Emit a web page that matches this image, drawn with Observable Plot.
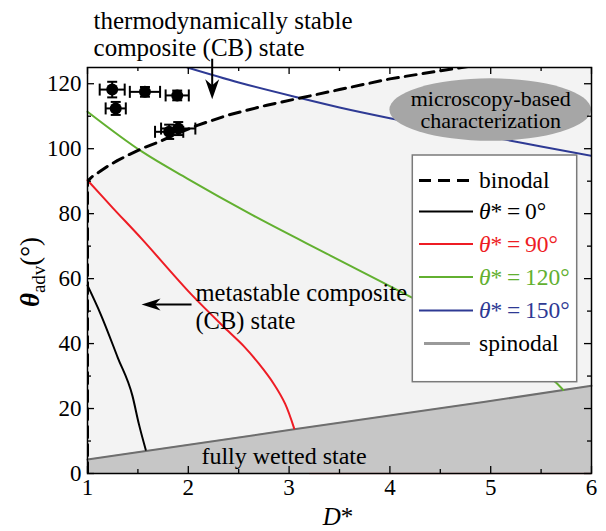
<!DOCTYPE html>
<html><head><meta charset="utf-8">
<script src="https://cdn.jsdelivr.net/npm/d3@7"></script>
<script src="https://cdn.jsdelivr.net/npm/@observablehq/plot@0.6"></script>
<style>body{margin:0;background:#fff}#chart{width:606px;height:531px}
#chart svg, #chart svg text{font-family:'Liberation Serif','DejaVu Serif',serif !important}</style>
</head><body><div id="chart"></div>
<script>
// ---- data ----
const binodalD     = [1, 1, 1.05, 1.115, 1.2, 1.3, 1.4, 1.55, 1.71, 1.9, 2.09, 2.4, 2.78, 3.11, 3.5, 4.0, 4.5, 4.8];
const binodalTheta = [0, 90, 91.5, 92.8, 94.6, 96.4, 98.0, 100.2, 102.1, 104.8, 107.2, 110.4, 113.4, 115.6, 118.2, 121.5, 124.0, 125.4];
const theta0D  = [1, 1.13, 1.30, 1.446, 1.51, 1.578];
const theta0Y  = [57.9, 49.1, 35.7, 23.9, 15.2, 7.3];
const theta90D = [1, 1.25, 1.545, 2.025, 2.39, 2.55, 2.7, 2.85, 2.96, 3.05];
const theta90Y = [90.3, 81.8, 72.0, 55.3, 44.0, 39.2, 33.8, 27.5, 21.5, 13.9];
const theta120D = [1, 1.545, 1.99, 2.61, 3.41, 4.21, 4.6, 5.0, 5.4, 5.647, 5.72];
const theta120Y = [111.4, 99.0, 90.8, 80.0, 67.1, 54.3, 47.8, 40.2, 33.0, 28.0, 25.7];
const theta150D = [1.99, 2.5, 3.11, 3.5, 4.0, 4.5, 5.0, 5.5, 6.0];
const theta150Y = [125, 120.4, 115.6, 112.7, 109.4, 106.4, 103.6, 100.7, 97.8];
const spinodalD = [1, 3.05, 4.93, 6];
const spinodalY = [4.3, 13.6, 22.0, 27.0];
// experimental points: D*, theta_adv, error in D*, error in theta
const expD   = [1.245, 1.28, 1.57, 1.89, 1.81, 1.90];
const expT   = [118.2, 112.4, 117.5, 116.4, 105.2, 106.2];
const expDe  = [0.124, 0.10, 0.15, 0.115, 0.14, 0.17];
const expTe  = [2.4, 2.0, 1.5, 1.5, 2.2, 2.0];
const xTicks = [1, 2, 3, 4, 5, 6];
const xMinor = [1.5, 2.5, 3.5, 4.5, 5.5];
const yTicks = [0, 20, 40, 60, 80, 100, 120];
const yMinor = [10, 30, 50, 70, 90, 110];
const pinkTailD = [3.2, 6];
const legendLabels = ["binodal", "θ* = 0°", "θ* = 90°", "θ* = 120°", "θ* = 150°", "spinodal"];
const legendColors = ["#000", "#000", "#ee1c24", "#62b030", "#2e3a94", "#9a9a9a"];
const ellipseSpec = [{D: 5.0, theta: 111.9, rD: 1.0, rT: 9.6}];
// annotation arrows (data coordinates: shaft start -> tip)
const arrowDown = [{x1: 2.237, y1: 127.7, x2: 2.237, y2: 115.2}];
const arrowLeft = [{x1: 2.032, y1: 52, x2: 1.536, y2: 52}];

const FONT = "'Liberation Serif','DejaVu Serif',serif";
const toPts = (xs, ys) => xs.map((x, i) => ({D: x, t: ys[i]}));
const binodal = toPts(binodalD, binodalTheta);
const c0 = toPts(theta0D, theta0Y), c90 = toPts(theta90D, theta90Y);
const c120 = toPts(theta120D, theta120Y), c150 = toPts(theta150D, theta150Y);
const spin = toPts(spinodalD, spinodalY);
const exp = expD.map((d, i) => ({D: d, t: expT[i], dD: expDe[i], dT: expTe[i]}));
const lightFill = binodal.slice(1).concat([{D: 6, t: 125}]);

const W = 606, H = 531, mL = 87, mR = 15, mT = 67, mB = 58;
const pw = W - mL - mR, ph = H - mT - mB;
const vbar = {draw(ctx, size) {const r = Math.sqrt(size / Math.PI); ctx.moveTo(0, -r); ctx.lineTo(0, r);}};
const hbar = {draw(ctx, size) {const r = Math.sqrt(size / Math.PI); ctx.moveTo(-r, 0); ctx.lineTo(r, 0);}};
// arrowheads with the tip at the symbol origin
const headDown = {draw(ctx) {ctx.moveTo(0, 0); ctx.lineTo(-7, -20); ctx.lineTo(0, -14); ctx.lineTo(7, -20); ctx.closePath();}};
const headLeft = {draw(ctx) {ctx.moveTo(0, 0); ctx.lineTo(19, -6); ctx.lineTo(13.5, 0); ctx.lineTo(19, 6); ctx.closePath();}};

const ellipseMark = Plot.dot(ellipseSpec, {x: "D", y: "theta", render(index, scales) {
  const g = d3.create("svg:g");
  for (const d of ellipseSpec) {
    const cx = scales.x(d.D), cy = scales.y(d.theta);
    g.append("ellipse").attr("cx", cx).attr("cy", cy)
      .attr("rx", scales.x(d.D + d.rD) - cx).attr("ry", scales.y(d.theta - d.rT) - cy)
      .attr("fill", "#a6a6a6");
  }
  return g.node();
}});

const plot = Plot.plot({
  width: W, height: H, marginLeft: mL, marginRight: mR, marginTop: mT, marginBottom: mB,
  style: {fontFamily: FONT, fontSize: "23px", color: "#000", background: "#fff", overflow: "visible"},
  x: {domain: [1, 6], ticks: xTicks, tickFormat: d => d, label: null},
  y: {domain: [0, 125], ticks: yTicks, tickFormat: d => d, label: null},
  marks: [
    Plot.areaY(lightFill, {x: "D", y: "t", fill: "#f3f3f3", clip: true}),
    Plot.areaY(spin, {x: "D", y: "t", fill: "#c6c6c6"}),
    Plot.line(pinkTailD.map(d => ({D: d, t: 0})), {x: "D", y: "t", stroke: "#f0b0b0", strokeWidth: 1.5}),
    Plot.line(spin, {x: "D", y: "t", stroke: "#6e6e6e", strokeWidth: 2}),
    Plot.line(c0, {x: "D", y: "t", stroke: "#000", strokeWidth: 2, curve: "monotone-x"}),
    Plot.line(c90, {x: "D", y: "t", stroke: "#ee1c24", strokeWidth: 2, curve: "catmull-rom"}),
    Plot.line(c120, {x: "D", y: "t", stroke: "#62b030", strokeWidth: 2, curve: "monotone-x"}),
    Plot.line(c150, {x: "D", y: "t", stroke: "#2e3a94", strokeWidth: 2, curve: "monotone-x", clip: true}),
    Plot.line(binodal, {x: "D", y: "t", stroke: "#000", strokeWidth: 3, strokeDasharray: "11,7", clip: true}),
    ellipseMark,
    Plot.text(["microscopy-based"], {x: ellipseSpec[0].D, y: ellipseSpec[0].theta + 3.5, fontSize: 22, fill: "#000"}),
    Plot.text(["characterization"], {x: ellipseSpec[0].D, y: ellipseSpec[0].theta - 3.5, fontSize: 22, fill: "#000"}),
    // error bars
    Plot.link(exp, {x1: d => d.D - d.dD, x2: d => d.D + d.dD, y1: "t", y2: "t", stroke: "#000", strokeWidth: 2}),
    Plot.link(exp, {x1: "D", x2: "D", y1: d => d.t - d.dT, y2: d => d.t + d.dT, stroke: "#000", strokeWidth: 2}),
    Plot.dot(exp, {x: d => d.D - d.dD, y: "t", symbol: vbar, r: 6, stroke: "#000", strokeWidth: 2}),
    Plot.dot(exp, {x: d => d.D + d.dD, y: "t", symbol: vbar, r: 6, stroke: "#000", strokeWidth: 2}),
    Plot.dot(exp, {x: "D", y: d => d.t - d.dT, symbol: hbar, r: 5, stroke: "#000", strokeWidth: 2}),
    Plot.dot(exp, {x: "D", y: d => d.t + d.dT, symbol: hbar, r: 5, stroke: "#000", strokeWidth: 2}),
    Plot.dot(exp, {x: "D", y: "t", r: 6, fill: "#000"}),
    // annotations
    Plot.text(["thermodynamically stable\ncomposite (CB) state"], {x: 1.06, y: 135.3, textAnchor: "start", fontSize: 25, lineHeight: 1.08, fill: "#000"}),
    Plot.link(arrowDown, {x1: "x1", y1: "y1", x2: "x2", y2: d => d.y2 + 3, stroke: "#000", strokeWidth: 2}),
    Plot.dot(arrowDown, {x: "x2", y: "y2", symbol: headDown, r: 5, fill: "#000", stroke: "none"}),
    Plot.text(["metastable composite\n(CB) state"], {x: 2.071, y: 51.6, textAnchor: "start", fontSize: 24.5, lineHeight: 1.15, fill: "#000"}),
    Plot.link(arrowLeft, {x1: "x1", y1: "y1", x2: d => d.x2 + 0.1, y2: "y2", stroke: "#000", strokeWidth: 2}),
    Plot.dot(arrowLeft, {x: "x2", y: "y2", symbol: headLeft, r: 5, fill: "#000", stroke: "none"}),
    Plot.text(["fully wetted state"], {x: 2.13, y: 5.4, textAnchor: "start", fontSize: 24, fill: "#000"}),
    // inward ticks
    Plot.tickY(yTicks, {y: d => d, insetRight: pw - 7, stroke: "#000", strokeWidth: 1.3}),
    Plot.tickY(yTicks, {y: d => d, insetLeft: pw - 7, stroke: "#000", strokeWidth: 1.3}),
    Plot.tickY(yMinor, {y: d => d, insetRight: pw - 4, stroke: "#000", strokeWidth: 1.3}),
    Plot.tickY(yMinor, {y: d => d, insetLeft: pw - 4, stroke: "#000", strokeWidth: 1.3}),
    Plot.tickX(xTicks, {x: d => d, insetBottom: ph - 7, stroke: "#000", strokeWidth: 1.3}),
    Plot.tickX(xTicks, {x: d => d, insetTop: ph - 7, stroke: "#000", strokeWidth: 1.3}),
    Plot.tickX(xMinor, {x: d => d, insetBottom: ph - 4, stroke: "#000", strokeWidth: 1.3}),
    Plot.tickX(xMinor, {x: d => d, insetTop: ph - 4, stroke: "#000", strokeWidth: 1.3}),
    Plot.axisX({ticks: xTicks, tickSize: 0, tickPadding: 5, tickFormat: d => d, fontSize: 23, label: null}),
    Plot.axisY({ticks: yTicks, tickSize: 0, tickPadding: 6, tickFormat: d => d, fontSize: 23, label: null}),
    Plot.frame({stroke: "#000", strokeWidth: 1.5})
  ]
});
document.getElementById("chart").appendChild(plot);

// axis titles and legend (text only, positioned in the SVG)
const svg = d3.select(plot);
const xt = svg.append("text").attr("x", 338).attr("y", 525).attr("text-anchor", "middle")
  .attr("font-size", 25);
xt.append("tspan").attr("font-style", "italic").text("D");
xt.append("tspan").text("*");
const yt = svg.append("text").attr("transform", "translate(39,272) rotate(-90)").attr("text-anchor", "middle")
  .attr("font-size", 27);
yt.append("tspan").attr("font-style", "italic").attr("font-weight", "bold").text("θ");
yt.append("tspan").attr("font-size", 19).attr("dy", 6).text("adv");
yt.append("tspan").attr("dy", -6).text("(°)");

const lg = svg.append("g").attr("font-size", 23.5).attr("text-anchor", "start");
lg.append("rect").attr("x", 412.3).attr("y", 155).attr("width", 164.4).attr("height", 226.7)
  .attr("fill", "#fff").attr("stroke", "#7a7a7a").attr("stroke-width", 1.5);
const rowY = [180.5, 211.5, 244, 277, 310.5, 343.5];
legendLabels.forEach((lab, i) => {
  const y = rowY[i];
  const ln = lg.append("line").attr("x1", i === 5 ? 424 : 419).attr("x2", i === 5 ? 470 : 473)
    .attr("y1", y).attr("y2", y).attr("stroke", legendColors[i]).attr("stroke-width", i === 0 ? 3 : i === 5 ? 3 : 2);
  if (i === 0) ln.attr("stroke-dasharray", "12,7");
  const t = lg.append("text").attr("x", 479).attr("y", y).attr("dy", "0.33em").attr("text-anchor", "start")
    .attr("fill", legendColors[i === 5 ? 1 : i]);
  if (lab.startsWith("θ")) {
    t.append("tspan").attr("font-style", "italic").text("θ");
    t.append("tspan").text("*\u2009=\u2009" + lab.split("= ")[1]);
  } else t.text(lab);
});
</script></body></html>
